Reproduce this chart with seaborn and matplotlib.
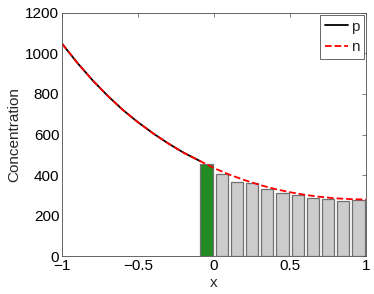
import matplotlib
matplotlib.use('Agg')
import matplotlib.pyplot as plt
import pandas as pd
import seaborn as sns

# curve p (left part only) and curve n (whole domain)
p_x = [-1.0, -0.9, -0.8, -0.7, -0.6, -0.5, -0.4, -0.3, -0.2, -0.09]
p_y = [1048, 954, 868, 791, 721, 660, 605, 555, 510, 468]

n_x = [-1.0, -0.9, -0.8, -0.7, -0.6, -0.5, -0.4, -0.3, -0.2, -0.09,
       0.0, 0.1, 0.2, 0.3, 0.4, 0.5, 0.6, 0.7, 0.8, 0.9, 1.0]
n_y = [1048, 954, 868, 791, 721, 660, 605, 555, 510, 468,
       434, 402, 375, 351, 331, 315, 302, 292, 285, 281, 279]

# bars: first one is the green cell, the rest are grey
bar_x = [-0.05, 0.05, 0.15, 0.25, 0.35, 0.45, 0.55, 0.65, 0.75, 0.85, 0.95]
bar_y = [454, 405, 365, 359, 329, 312, 303, 286, 283, 272, 275]
bar_kind = ['g'] + ['r'] * 10

sns.set_style('white')
plt.rcParams['font.family'] = ['Liberation Sans', 'DejaVu Sans']
plt.rcParams['font.size'] = 11

fig = plt.figure(figsize=(3.74, 2.94), dpi=100)
ax = fig.add_axes([0.166, 0.129, 0.813, 0.827])

df_bar = pd.DataFrame({'x': bar_x, 'y': bar_y, 'kind': bar_kind})
sns.barplot(data=df_bar, x='x', y='y', hue='kind', native_scale=True,
            palette={'g': '#228b22', 'r': '#cccccc'}, dodge=False,
            saturation=1, width=0.8, edgecolor='#707070', linewidth=0.9,
            legend=False, ax=ax)

sns.lineplot(x=p_x, y=p_y, color='black', linewidth=1.3, label='p', ax=ax)
sns.lineplot(x=n_x, y=n_y, color='red', linewidth=1.3, linestyle='--',
             dashes=(2.8, 1.8), label='n', ax=ax)

ax.set_xlim(-1, 1)
ax.set_ylim(0, 1200)
ax.set_xticks([-1, -0.5, 0, 0.5, 1])
ax.set_xticklabels(['\u22121', '\u22120.5', '0', '0.5', '1'])
ax.set_yticks(range(0, 1201, 200))
ax.tick_params(direction='in', length=3, width=0.5, top=True, right=True,
               pad=2, colors='0.3', labelcolor='black')
for s in ax.spines.values():
    s.set_linewidth(0.6)
    s.set_color('0.3')

ax.set_xlabel('x', labelpad=2)
ax.set_ylabel('Concentration', labelpad=3)

leg = ax.legend(loc='upper right', fancybox=False, framealpha=1,
                edgecolor='0.3', handlelength=1.5, handletextpad=0.2,
                borderaxespad=0.15, borderpad=0.3, labelspacing=0.4,
                fontsize=11)
leg.get_frame().set_linewidth(0.6)

fig.savefig('out.png', dpi=100)
